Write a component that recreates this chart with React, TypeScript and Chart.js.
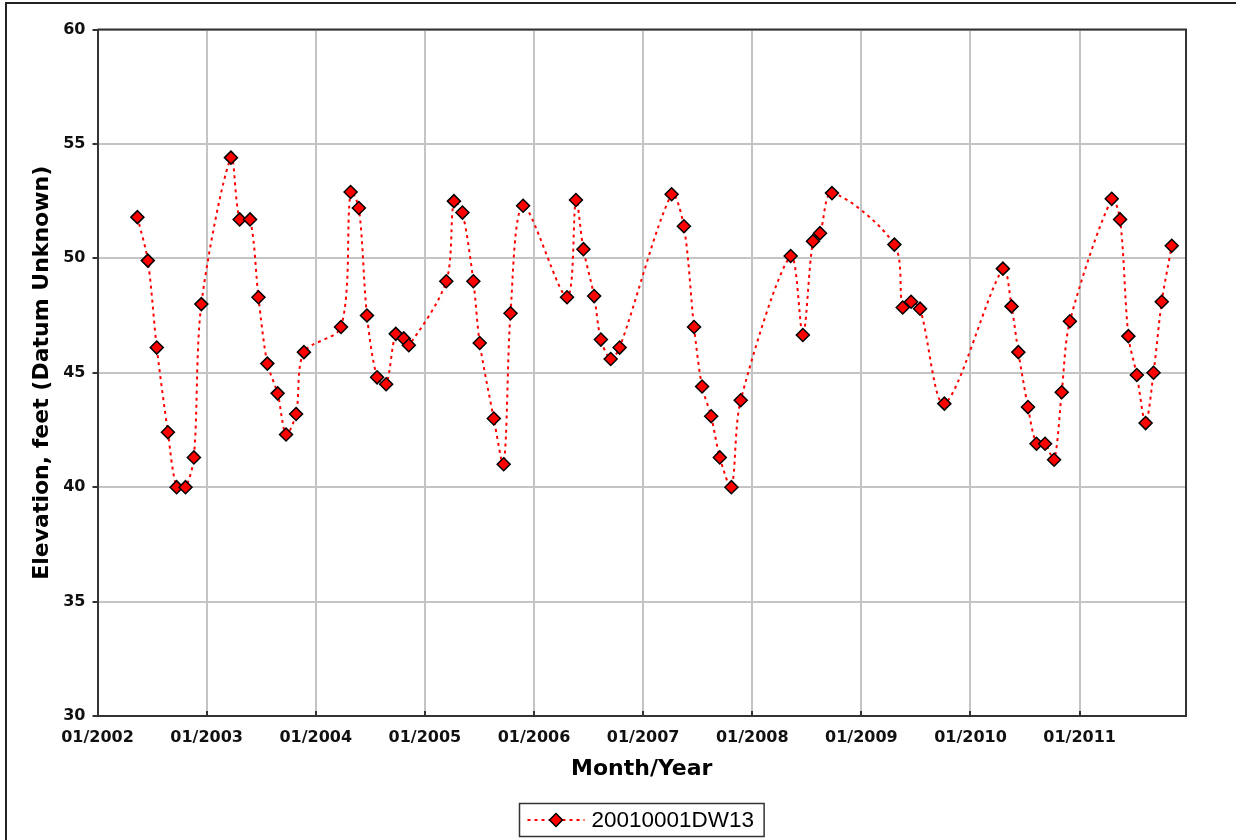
import React, { useEffect, useRef } from "react";
import { Chart, registerables } from "chart.js";

Chart.register(...registerables);

const seriesLabel = "20010001DW13";
const xAxisTitle = "Month/Year";
const yAxisTitle = "Elevation, feet (Datum Unknown)";

const sampleDates = [
  "2002-05-13", "2002-06-17", "2002-07-17", "2002-08-24", "2002-09-22", "2002-10-22", "2002-11-19", "2002-12-14",
  "2003-03-22", "2003-04-20", "2003-05-25", "2003-06-22", "2003-07-22", "2003-08-26", "2003-09-23", "2003-10-27", "2003-11-22",
  "2004-03-25", "2004-04-26", "2004-05-24", "2004-06-20", "2004-07-24", "2004-08-24", "2004-09-25", "2004-10-22", "2004-11-08",
  "2005-03-12", "2005-04-07", "2005-05-05", "2005-06-11", "2005-07-02", "2005-08-19", "2005-09-21", "2005-10-14", "2005-11-25",
  "2006-04-20", "2006-05-20", "2006-06-14", "2006-07-20", "2006-08-12", "2006-09-14", "2006-10-14",
  "2007-04-05", "2007-05-16", "2007-06-19", "2007-07-16", "2007-08-16", "2007-09-14", "2007-10-23", "2007-11-23",
  "2008-05-08", "2008-06-18", "2008-07-22", "2008-08-15", "2008-09-24",
  "2009-04-20", "2009-05-18", "2009-06-15", "2009-07-15", "2009-10-05",
  "2010-04-18", "2010-05-17", "2010-06-09", "2010-07-11", "2010-08-09", "2010-09-07", "2010-10-07", "2010-11-02", "2010-11-29",
  "2011-04-17", "2011-05-15", "2011-06-12", "2011-07-10", "2011-08-09", "2011-09-05", "2011-10-02", "2011-11-05",
];

const elevations = [
  51.8, 49.9, 46.1, 42.4, 40.0, 40.0, 41.3, 48.0,
  54.4, 51.7, 51.7, 48.3, 45.4, 44.1, 42.3, 43.2, 45.9,
  47.0, 52.9, 52.2, 47.5, 44.8, 44.5, 46.7, 46.5, 46.2,
  49.0, 52.5, 52.0, 49.0, 46.3, 43.0, 41.0, 47.6, 52.3,
  48.3, 52.55, 50.4, 48.35, 46.45, 45.6, 46.1,
  52.8, 51.4, 47.0, 44.4, 43.1, 41.3, 40.0, 43.8,
  50.1, 46.65, 50.75, 51.1, 52.85,
  50.6, 47.85, 48.1, 47.8, 43.65,
  49.55, 47.9, 45.9, 43.5, 41.9, 41.9, 41.2, 44.15, 47.25,
  52.6, 51.7, 46.6, 44.9, 42.8, 45.0, 48.1, 50.55,
];

const xTickYears = [2002, 2003, 2004, 2005, 2006, 2007, 2008, 2009, 2010, 2011];
const xMinYear = 2002;
const xMaxYear = 2011.975;
const yTickValues = [30, 35, 40, 45, 50, 55, 60];
const yMin = 30;
const yMax = 60;

function toDecimalYear(s: string): number {
  const [y, m, d] = s.split("-").map(Number);
  const dim = new Date(y, m, 0).getDate();
  return y + (m - 1 + (d - 1) / dim) / 12;
}

const SERIES_COLOR = "#ff0000";
const AXIS_COLOR = "#333333";
const GRID_COLOR = "#c4c4c4";
const FONT = "DejaVu Sans";

const framePlugin = {
  id: "frame",
  beforeDraw(chart: any) {
    const ctx = chart.ctx;
    ctx.save();
    ctx.strokeStyle = "#222";
    ctx.lineWidth = 2;
    ctx.beginPath();
    ctx.moveTo(6, chart.height);
    ctx.lineTo(6, 3);
    ctx.lineTo(chart.width, 3);
    ctx.stroke();
    ctx.restore();
  },
  beforeDatasetsDraw(chart: any) {
    const { ctx, chartArea } = chart;
    ctx.save();
    ctx.strokeStyle = AXIS_COLOR;
    ctx.lineWidth = 2;
    ctx.beginPath();
    ctx.moveTo(chartArea.left, chartArea.top);
    ctx.lineTo(chartArea.right, chartArea.top);
    ctx.lineTo(chartArea.right, chartArea.bottom);
    ctx.stroke();
    ctx.restore();
  },
  afterDraw(chart: any) {
    const { ctx, chartArea } = chart;
    const ds = chart.data.datasets[0];
    ctx.save();
    ctx.font = `22.5px "Liberation Sans", Arial, sans-serif`;
    const textW = ctx.measureText(ds.label).width;
    const padL = 8, sampleW = 57, gap = 7, padR = 10;
    const boxW = padL + sampleW + gap + textW + padR;
    const boxH = 33;
    const cx = (chartArea.left + chartArea.right) / 2;
    const bx = Math.round(cx - boxW / 2) + 0.5;
    const by = 803.5;
    ctx.strokeStyle = AXIS_COLOR;
    ctx.lineWidth = 1.5;
    ctx.strokeRect(bx, by, boxW, boxH);
    const my = by + boxH / 2;
    ctx.strokeStyle = SERIES_COLOR;
    ctx.lineWidth = 2;
    ctx.setLineDash([3, 4]);
    ctx.beginPath();
    ctx.moveTo(bx + padL, my);
    ctx.lineTo(bx + padL + sampleW, my);
    ctx.stroke();
    ctx.setLineDash([]);
    const dx = bx + padL + sampleW / 2;
    const r = 6.5;
    ctx.beginPath();
    ctx.moveTo(dx, my - r);
    ctx.lineTo(dx + r, my);
    ctx.lineTo(dx, my + r);
    ctx.lineTo(dx - r, my);
    ctx.closePath();
    ctx.fillStyle = SERIES_COLOR;
    ctx.fill();
    ctx.strokeStyle = "#000";
    ctx.lineWidth = 1.5;
    ctx.stroke();
    ctx.fillStyle = "#000";
    ctx.textBaseline = "middle";
    ctx.textAlign = "left";
    ctx.fillText(ds.label, bx + padL + sampleW + gap, my + 1);
    ctx.restore();
  },
};

export default function App() {
  const ref = useRef<HTMLCanvasElement>(null);

  useEffect(() => {
    const canvas = ref.current;
    if (!canvas) return;
    const points = sampleDates.map((d, i) => ({ x: toDecimalYear(d), y: elevations[i] }));
    const chart = new Chart(canvas, {
      type: "line",
      data: {
        datasets: [
          {
            label: seriesLabel,
            data: points,
            borderColor: SERIES_COLOR,
            borderWidth: 2,
            borderDash: [3, 4],
            tension: 0.3,
            fill: false,
            pointStyle: "rectRot",
            pointRadius: 6.5,
            pointBackgroundColor: SERIES_COLOR,
            pointBorderColor: "#000",
            pointBorderWidth: 1.5,
          },
        ],
      },
      options: {
        animation: false,
        responsive: false,
        layout: { padding: { left: 0, top: 29.5, right: 50, bottom: 0 } },
        plugins: {
          legend: { display: false },
          tooltip: { enabled: false },
        },
        scales: {
          x: {
            type: "linear",
            min: xMinYear,
            max: xMaxYear,
            afterBuildTicks: (s: any) => {
              s.ticks = xTickYears.map((v) => ({ value: v }));
            },
            afterFit: (s: any) => {
              s.height = 124;
            },
            ticks: {
              callback: (v: any) => "01/" + v,
              font: { family: FONT, size: 16, weight: "bold" },
              color: "#111",
              padding: 17.4,
              maxRotation: 0,
              autoSkip: false,
            },
            grid: { color: GRID_COLOR, lineWidth: 2, tickLength: -5, tickColor: AXIS_COLOR, tickWidth: 2 },
            border: { color: AXIS_COLOR, width: 2 },
            title: {
              display: true,
              text: xAxisTitle,
              color: "#000",
              font: { family: FONT, size: 22, weight: "bold" },
              padding: { top: 0, bottom: 57.8 },
            },
          },
          y: {
            type: "linear",
            min: yMin,
            max: yMax,
            afterBuildTicks: (s: any) => {
              s.ticks = yTickValues.map((v) => ({ value: v }));
            },
            afterFit: (s: any) => {
              s.width = 97.5;
            },
            ticks: {
              font: { family: FONT, size: 16, weight: "bold" },
              color: "#111",
              padding: 7,
            },
            grid: { color: GRID_COLOR, lineWidth: 2, tickLength: 5, tickColor: AXIS_COLOR, tickWidth: 2 },
            border: { color: AXIS_COLOR, width: 2 },
            title: {
              display: true,
              text: yAxisTitle,
              color: "#000",
              font: { family: FONT, size: 22, weight: "bold" },
              padding: { top: 28.8, bottom: 0 },
            },
          },
        },
      },
      plugins: [framePlugin],
    } as any);
    return () => chart.destroy();
  }, []);

  return (
    <div style={{ position: "absolute", left: 0, top: 0, width: 1236, height: 840, background: "#fff" }}>
      <canvas ref={ref} width={1236} height={840} style={{ display: "block" }} />
    </div>
  );
}
